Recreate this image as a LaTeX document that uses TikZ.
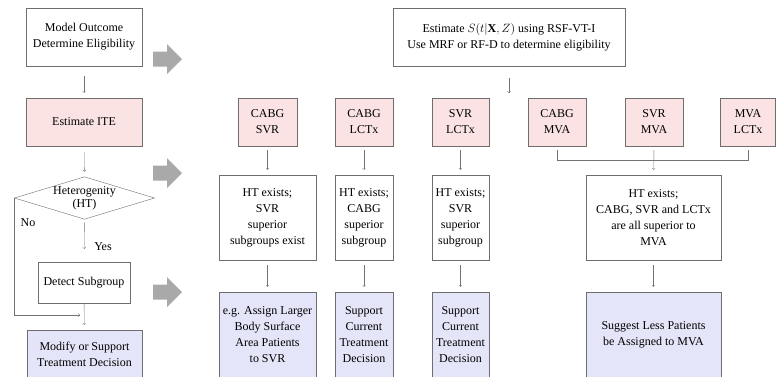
\documentclass[tikz,border=0pt]{standalone}
\usepackage{fontspec}
\setmainfont{Liberation Serif}
\usepackage{amsmath}
\usetikzlibrary{shapes.geometric,calc}
\definecolor{pinkfill}{HTML}{FBE3E4}
\definecolor{bluefill}{HTML}{E5E5F9}
\definecolor{edgegray}{HTML}{6E6E6E}
\definecolor{biggray}{HTML}{A9A9A9}
\tikzset{box/.style={draw=edgegray,align=center,inner sep=0pt,font=\fontsize{12}{16}\selectfont}}
\tikzset{pinkbox/.style={box,fill=pinkfill}}
\tikzset{bluebox/.style={box,fill=bluefill}}
\tikzset{flow/.style={->,draw=black!55,shorten <=5pt,shorten >=5pt}}
\tikzset{bigarrow/.style={fill=biggray}}

\begin{document}
\begin{tikzpicture}[x=1pt,y=-1pt]
  \useasboundingbox (0,0) rectangle (776,376);
  \clip (0,0) rectangle (776,376);

  % left column
  \node[box,minimum width=116,minimum height=58] (model) at (84,37) {Model Outcome\\Determine Eligibility};
  \node[pinkbox,minimum width=116,minimum height=48] (ite) at (84,122) {Estimate ITE};
  \node[box,shape=diamond,aspect=3.3,font=\fontsize{12}{13}\selectfont] (ht) at (84.5,198) {Heterogenity\\(HT)};
  \node[box,minimum width=92,minimum height=41] (detect) at (84,282.5) {Detect Subgroup};
  \node[bluebox,minimum width=115,minimum height=48] (modify) at (84.5,354) {Modify or Support\\Treatment Decision};
  \node[font=\fontsize{12}{16}\selectfont] (lno) at (28,223) {No};
  \node[font=\fontsize{12}{16}\selectfont] (lyes) at (103,247) {Yes};
  \coordinate (nojoin) at (80,315);

  \draw[flow,shorten <=10pt] (model) -- (ite);
  \draw[flow,shorten <=6pt] (ite) -- (ht);
  \draw[flow,shorten <=3pt,shorten >=13pt] (ht) -- (detect);
  \draw[flow,shorten <=1pt] (detect) -- (modify);
  \draw[flow,shorten <=0pt,shorten >=0pt] (ht.west) |- (nojoin);

  % big arrows
  \foreach \cy in {59,173,292}
    \fill[bigarrow] (153,\cy-7.5) -- (167,\cy-7.5) -- (167,\cy-15) -- (182,\cy)
      -- (167,\cy+15) -- (167,\cy+7.5) -- (153,\cy+7.5) -- cycle;

  % right part
  \node[box,minimum width=232,minimum height=58] (est) at (509,37)
    {Estimate $S(t|\mathbf{X},Z)$ using RSF-VT-I\\Use MRF or RF-D to determine eligibility};
  \coordinate (estend) at (509,93);
  \draw[flow,shorten <=12pt,shorten >=0pt] (est) -- (estend);

  \node[pinkbox,minimum width=59,minimum height=48] (cs) at (267.5,122) {CABG\\SVR};
  \node[pinkbox,minimum width=58,minimum height=48] (cl) at (364,122) {CABG\\LCTx};
  \node[pinkbox,minimum width=57,minimum height=48] (sl) at (460.5,122) {SVR\\LCTx};
  \node[pinkbox,minimum width=58,minimum height=48] (cm) at (557,122) {CABG\\MVA};
  \node[pinkbox,minimum width=58,minimum height=48] (sm) at (654,122) {SVR\\MVA};
  \node[pinkbox,minimum width=55,minimum height=48] (ml) at (748,122) {MVA\\LCTx};

  \node[box,minimum width=97,minimum height=85] (ht1) at (267.5,217.5) {HT exists;\\SVR\\superior\\subgroups exist};
  \node[box,minimum width=58,minimum height=85] (ht2) at (364,217.5) {HT exists;\\CABG\\superior\\subgroup};
  \node[box,minimum width=57,minimum height=85] (ht3) at (460.5,217.5) {HT exists;\\SVR\\superior\\subgroup};
  \node[box,minimum width=135,minimum height=85] (ht4) at (653.5,217.5) {HT exists;\\CABG, SVR and LCTx\\are all superior to\\MVA};

  \node[bluebox,minimum width=97,minimum height=86] (dec1) at (267.5,335) {e.g. Assign Larger\\Body Surface\\Area Patients\\to SVR};
  \node[bluebox,minimum width=58,minimum height=86] (dec2) at (364,335) {Support\\Current\\Treatment\\Decision};
  \node[bluebox,minimum width=57,minimum height=86] (dec3) at (460.5,335) {Support\\Current\\Treatment\\Decision};
  \node[bluebox,minimum width=135,minimum height=86] (dec4) at (653.5,335) {Suggest Less Patients\\be Assigned to MVA};

  \draw[flow,shorten <=4pt] (cs) -- (ht1);
  \draw[flow,shorten <=4pt] (cl) -- (ht2);
  \draw[flow,shorten <=4pt] (sl) -- (ht3);
  \coordinate (brk) at (557,160);
  \draw[draw=black!55] ([yshift=-4pt]cm.south) -- (brk) -| ([yshift=-4pt]ml.south);
  \draw[flow,shorten <=4pt] (sm) -- (ht4);

  \draw[flow] (ht1) -- (dec1);
  \draw[flow] (ht2) -- (dec2);
  \draw[flow] (ht3) -- (dec3);
  \draw[flow] (ht4) -- (dec4);
\end{tikzpicture}
\end{document}
